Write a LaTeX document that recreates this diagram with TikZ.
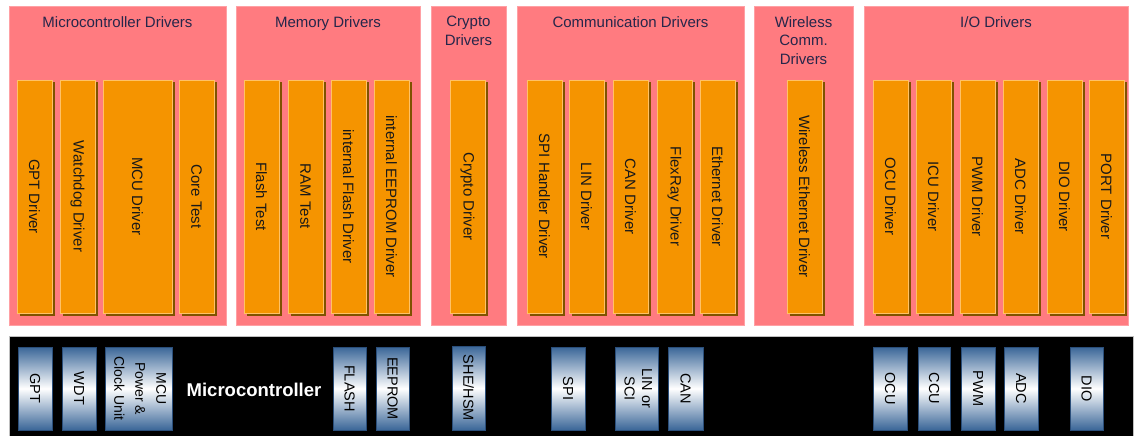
\documentclass[tikz,border=0pt]{standalone}
\usepackage{fontspec}
\setmainfont{Liberation Sans}
\usetikzlibrary{shadows}

\definecolor{grouppink}{HTML}{FF7B80}
\definecolor{groupedge}{HTML}{FFA0A4}
\definecolor{barorange}{HTML}{F59400}
\definecolor{barlight}{HTML}{FFC266}
\definecolor{barshadow}{HTML}{7F5200}
\definecolor{titleink}{HTML}{26264A}
\definecolor{hwblue}{HTML}{3A6698}
\definecolor{hwedge}{HTML}{2A4E7A}

\tikzset{
  group/.style={fill=grouppink, draw=groupedge, line width=0.6pt,
    minimum height=319, inner sep=0},
  grouptitle/.style={anchor=north, inner sep=0, align=center, text=titleink,
    font=\fontsize{15}{18.5}\selectfont},
  drvbar/.style={fill=barorange, draw=barlight, line width=0.8pt,
    minimum width=35, minimum height=233, inner sep=0, text=black!90,
    font=\fontsize{15}{18}\selectfont,
    drop shadow={shadow xshift=2.5pt, shadow yshift=-2.5pt,
      fill=barshadow, opacity=1}},
  hwbox/.style={top color=hwblue, bottom color=hwblue, middle color=white,
    draw=hwedge, line width=0.6pt, minimum width=34, minimum height=83,
    inner sep=0, text=black, font=\fontsize{14.5}{15.5}\selectfont},
  mcubar/.style={fill=black, draw=black!25, line width=1pt, inner sep=0,
    minimum width=1124, minimum height=101},
}

\newcommand{\vtext}[1]{\rotatebox{-90}{#1}}
\newcommand{\vlines}[1]{\rotatebox{-90}{\begin{tabular}{@{}c@{}}#1\end{tabular}}}

\begin{document}
\begin{tikzpicture}[x=1pt,y=-1pt]
\useasboundingbox (0,0) rectangle (1136,436);

% ---- driver groups ----
\node[group, minimum width=217] (gmcu)  at (117.5,165.5) {};
\node[group, minimum width=184] (gmem)  at (328,165.5)   {};
\node[group, minimum width=75]  (gcry)  at (468.5,165.5) {};
\node[group, minimum width=227] (gcom)  at (630.5,165.5) {};
\node[group, minimum width=99]  (gwl)   at (803.5,165.5) {};
\node[group, minimum width=264] (gio)   at (996,165.5)   {};

\node[grouptitle] (tmcu) at (117.5,16) {Microcontroller Drivers};
\node[grouptitle] (tmem) at (328,16)   {Memory Drivers};
\node[grouptitle] (tcry) at (468.5,16) {Crypto\\Drivers};
\node[grouptitle] (tcom) at (630.5,16) {Communication Drivers};
\node[grouptitle] (twl)  at (803.5,16) {Wireless\\Comm.\\Drivers};
\node[grouptitle] (tio)  at (996,16)   {I/O Drivers};

% ---- driver modules ----
\node[drvbar] (dgpt)  at (34.5,196.5)  {\vtext{GPT Driver}};
\node[drvbar] (dwdg)  at (77.5,196.5)  {\vtext{Watchdog Driver}};
\node[drvbar, minimum width=69] (dmcu) at (137.5,196.5) {\vtext{MCU Driver}};
\node[drvbar] (dcore) at (196.5,196.5) {\vtext{Core Test}};

\node[drvbar] (dflt)  at (261.5,196.5) {\vtext{Flash Test}};
\node[drvbar] (dram)  at (305.5,196.5) {\vtext{RAM Test}};
\node[drvbar] (dfls)  at (348.5,196.5) {\vtext{internal Flash Driver}};
\node[drvbar] (deep)  at (391.5,196.5) {\vtext{internal EEPROM Driver}};

\node[drvbar] (dcry)  at (467.5,196.5) {\vtext{Crypto Driver}};

\node[drvbar] (dspi)  at (544.5,196.5) {\vtext{SPI Handler Driver}};
\node[drvbar] (dlin)  at (586.5,196.5) {\vtext{LIN Driver}};
\node[drvbar] (dcan)  at (630.5,196.5) {\vtext{CAN Driver}};
\node[drvbar] (dfr)   at (674.5,196.5) {\vtext{FlexRay Driver}};
\node[drvbar] (deth)  at (717.5,196.5) {\vtext{Ethernet Driver}};

\node[drvbar] (dweth) at (804.5,196.5) {\vtext{Wireless Ethernet Driver}};

\node[drvbar] (docu)  at (890.5,196.5)  {\vtext{OCU Driver}};
\node[drvbar] (dicu)  at (933.5,196.5)  {\vtext{ICU Driver}};
\node[drvbar] (dpwm)  at (977.5,196.5)  {\vtext{PWM Driver}};
\node[drvbar] (dadc)  at (1020.5,196.5) {\vtext{ADC Driver}};
\node[drvbar] (ddio)  at (1064.5,196.5) {\vtext{DIO Driver}};
\node[drvbar] (dport) at (1106.5,196.5) {\vtext{PORT Driver}};

% ---- microcontroller hardware ----
\node[mcubar] (mcu) at (571,386.5) {};
\node[text=white, inner sep=0, font=\fontsize{18.5}{20}\selectfont\bfseries]
  (mcutitle) at (254,390) {Microcontroller};

\node[hwbox] (hgpt)  at (35,388.5)    {\vtext{GPT}};
\node[hwbox] (hwdt)  at (79,388.5)    {\vtext{WDT}};
\node[hwbox, minimum width=67, font=\fontsize{14}{16}\selectfont] (hpwr) at (138.5,388.5)
  {\vlines{MCU\\[5pt]Power \&\\[5pt]Clock Unit}};
\node[hwbox, minimum width=33] (hfls) at (349.5,388.5) {\vtext{FLASH}};
\node[hwbox, minimum width=33] (heep) at (392.5,388.5) {\vtext{EEPROM}};
\node[hwbox, minimum width=33, minimum height=84] (hhsm) at (468.5,388) {\vtext{SHE/HSM}};
\node[hwbox] (hspi)  at (568,388.5)   {\vtext{SPI}};
\node[hwbox, minimum width=43] (hlin) at (636.5,388.5) {\vlines{LIN or\\[2pt]SCI}};
\node[hwbox, minimum width=35] (hcan) at (685.5,388.5) {\vtext{CAN}};
\node[hwbox] (hocu)  at (890,388.5)   {\vtext{OCU}};
\node[hwbox, minimum width=32] (hccu) at (934,388.5) {\vtext{CCU}};
\node[hwbox] (hpwm)  at (978,388.5)   {\vtext{PWM}};
\node[hwbox] (hadc)  at (1021,388.5)  {\vtext{ADC}};
\node[hwbox, minimum width=33] (hdio) at (1086.5,388.5) {\vtext{DIO}};
\end{tikzpicture}
\end{document}
